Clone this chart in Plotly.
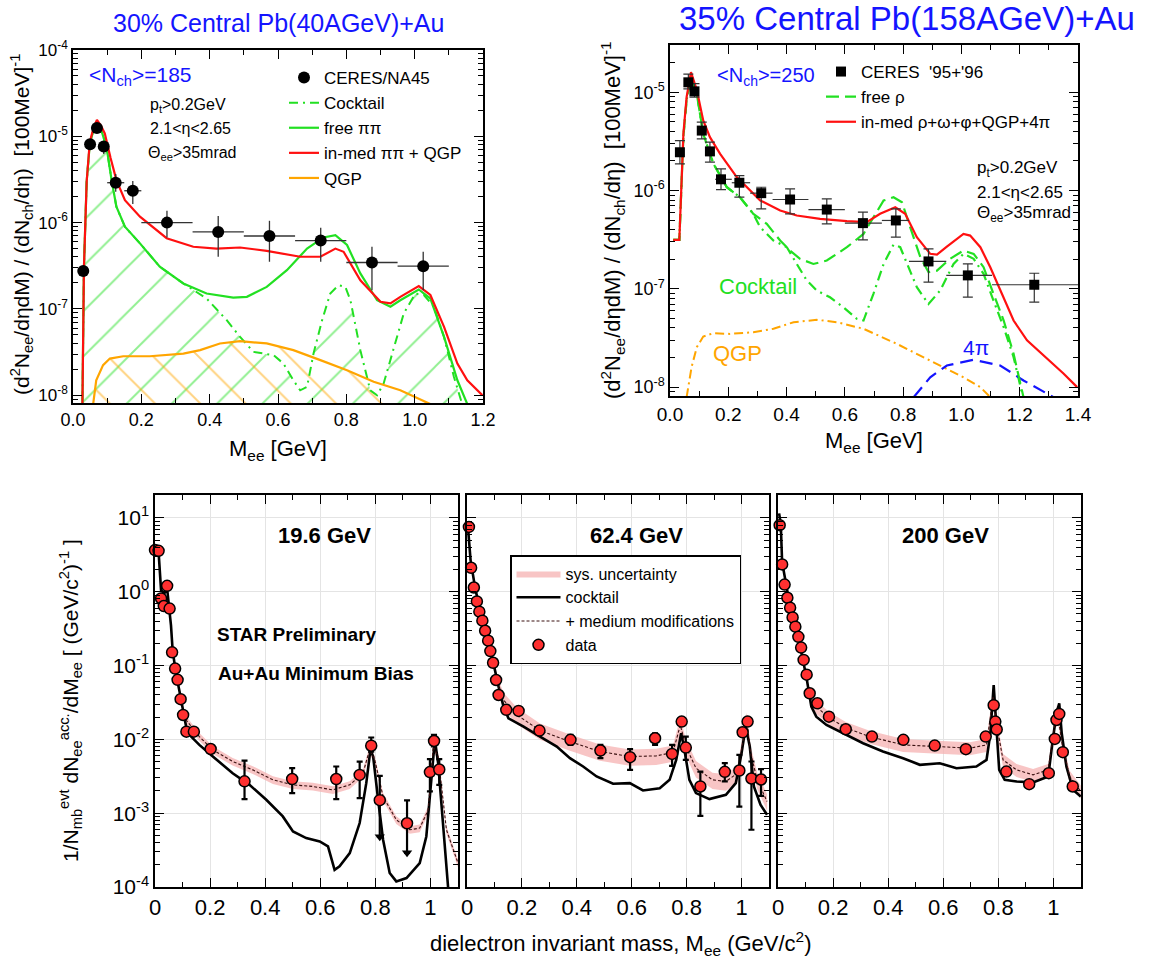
import plotly.graph_objects as go

W, H = 1159, 967
FONT = "Liberation Sans, Arial, Helvetica, sans-serif"
GREEN = "#22e022"
RED = "#ff1010"
ORANGE = "#ffa500"
BLUE = "#1414ff"
FILL_FLOOR = 1e-9

# ---------------- top-left: 30% central Pb(40AGeV)+Au ----------------
TL_DATA_X = [0.03, 0.05, 0.07, 0.09, 0.125, 0.175, 0.275, 0.425, 0.575, 0.725, 0.875, 1.025]
TL_DATA_Y = [2.75e-7, 8.1e-6, 1.25e-5, 7.6e-6, 2.9e-6, 2.34e-6, 1.0e-6, 7.8e-7, 7.0e-7, 6.2e-7, 3.45e-7, 3.13e-7]
TL_DATA_XERR = [0, 0, 0, 0, 0.025, 0.025, 0.075, 0.075, 0.075, 0.075, 0.075, 0.075]
TL_DATA_YHI = [2.75e-7, 8.1e-6, 1.25e-5, 8.65e-6, 3.65e-6, 3.03e-6, 1.37e-6, 1.19e-6, 1.05e-6, 8.7e-7, 5.25e-7, 4.59e-7]
TL_DATA_YLO = [2.75e-7, 8.1e-6, 1.25e-5, 6.22e-6, 2.28e-6, 1.64e-6, 6.73e-7, 4.02e-7, 3.52e-7, 3.52e-7, 1.65e-7, 1.65e-7]

TL_RED_X = [0.027, 0.032, 0.040, 0.049, 0.060, 0.070, 0.082, 0.093, 0.110, 0.127, 0.152, 0.196, 0.274,
            0.352, 0.42, 0.489, 0.567, 0.665, 0.724, 0.768, 0.792, 0.841, 0.90, 0.929, 0.958, 1.012,
            1.046, 1.086, 1.125, 1.154, 1.198]
TL_RED_Y = [5e-9, 3.0e-7, 3.0e-6, 8.5e-6, 1.25e-5, 1.55e-5, 1.32e-5, 1.08e-5, 5.6e-6, 3.11e-6, 1.82e-6,
            1.17e-6, 6.6e-7, 5.25e-7, 5.0e-7, 5.15e-7, 4.71e-7, 4.02e-7, 4.02e-7, 5.0e-7, 4.59e-7, 2.15e-7,
            1.21e-7, 1.16e-7, 1.38e-7, 1.84e-7, 1.45e-7, 6.2e-8, 2.33e-8, 1.49e-8, 1.0e-8]

TL_FREE_X = [0.027, 0.032, 0.040, 0.049, 0.060, 0.070, 0.082, 0.098, 0.113, 0.127, 0.152, 0.196, 0.254,
             0.323, 0.391, 0.469, 0.509, 0.567, 0.626, 0.685, 0.733, 0.768, 0.802, 0.841, 0.89, 0.929,
             0.958, 1.012, 1.046, 1.086, 1.125, 1.154]
TL_FREE_Y = [5e-9, 3.0e-7, 3.0e-6, 8.0e-6, 1.2e-5, 1.41e-5, 1.2e-5, 7.6e-6, 3.1e-6, 1.53e-6, 8.95e-7,
             5.75e-7, 3.08e-7, 1.97e-7, 1.51e-7, 1.35e-7, 1.38e-7, 1.8e-7, 2.81e-7, 5.0e-7, 6.73e-7,
             7.16e-7, 5.5e-7, 2.58e-7, 1.26e-7, 1.06e-7, 1.26e-7, 1.68e-7, 1.32e-7, 4.74e-8, 1.49e-8, 7.9e-9]

TL_COCK_X = [0.027, 0.032, 0.040, 0.049, 0.060, 0.070, 0.082, 0.098, 0.113, 0.127, 0.152, 0.196, 0.254,
             0.323, 0.391, 0.45, 0.489, 0.528, 0.587, 0.616, 0.645, 0.665, 0.685, 0.704, 0.729, 0.753,
             0.777, 0.797, 0.812, 0.841, 0.87, 0.89, 0.909, 0.939, 0.968, 1.002, 1.027, 1.056, 1.086,
             1.115, 1.139]
TL_COCK_Y = [5e-9, 3.0e-7, 3.0e-6, 8.0e-6, 1.2e-5, 1.41e-5, 1.2e-5, 7.6e-6, 3.1e-6, 1.53e-6, 8.95e-7,
             5.75e-7, 3.08e-7, 1.97e-7, 1.32e-7, 7.4e-8, 4.74e-8, 3.18e-8, 2.91e-8, 2.33e-8, 1.49e-8,
             1.14e-8, 1.25e-8, 3.04e-8, 7.4e-8, 1.51e-7, 1.88e-7, 1.8e-7, 1.26e-7, 3.33e-8, 1.14e-8,
             1.0e-8, 1.36e-8, 3.63e-8, 8.85e-8, 1.51e-7, 1.45e-7, 1.06e-7, 4.74e-8, 1.63e-8, 7.9e-9]

TL_QGP_X = [0.059, 0.068, 0.088, 0.108, 0.147, 0.225, 0.323, 0.372, 0.43, 0.489, 0.567, 0.645, 0.724,
            0.802, 0.88, 0.958, 1.046]
TL_QGP_Y = [7.9e-9, 1.49e-8, 2.23e-8, 2.66e-8, 2.83e-8, 2.83e-8, 3.04e-8, 3.33e-8, 3.98e-8, 4.23e-8,
            3.98e-8, 3.33e-8, 2.55e-8, 1.95e-8, 1.43e-8, 1.14e-8, 7.9e-9]

# ---------------- top-right: 35% central Pb(158AGeV)+Au ----------------
TR_DATA_X = [0.034, 0.063, 0.084, 0.109, 0.137, 0.175, 0.238, 0.313, 0.412, 0.538, 0.662, 0.775, 0.887, 1.022, 1.25]
TR_DATA_Y = [2.45e-6, 1.26e-5, 1.02e-5, 4.07e-6, 2.5e-6, 1.3e-6, 1.2e-6, 9.4e-7, 8.1e-7, 6.4e-7, 4.66e-7,
             4.96e-7, 1.9e-7, 1.37e-7, 1.1e-7]
TR_DATA_XLO = [0.034, 0.063, 0.084, 0.109, 0.137, 0.155, 0.212, 0.275, 0.352, 0.475, 0.60, 0.727, 0.82, 0.948, 1.105]
TR_DATA_XHI = [0.034, 0.063, 0.084, 0.109, 0.137, 0.212, 0.275, 0.352, 0.475, 0.60, 0.727, 0.82, 0.948, 1.105, 1.4]
TR_DATA_YHI = [3.22e-6, 1.53e-5, 1.22e-5, 4.95e-6, 3.1e-6, 1.66e-6, 1.42e-6, 1.08e-6, 1.04e-6, 8.22e-7,
               6.03e-7, 6.52e-7, 2.55e-7, 1.79e-7, 1.44e-7]
TR_DATA_YLO = [1.87e-6, 1.08e-5, 8.9e-6, 3.35e-6, 1.94e-6, 1.02e-6, 8.55e-7, 6.52e-7, 5.79e-7, 4.58e-7,
               3.15e-7, 3.35e-7, 1.17e-7, 8.22e-8, 7.31e-8]

TR_RED_X = [0.011, 0.032, 0.046, 0.057, 0.072, 0.092, 0.114, 0.137, 0.172, 0.229, 0.309, 0.378, 0.435,
            0.515, 0.607, 0.675, 0.721, 0.773, 0.807, 0.847, 0.893, 0.916, 0.95, 1.007, 1.03, 1.065,
            1.099, 1.139, 1.179, 1.225, 1.294, 1.351, 1.397]
TR_RED_Y = [3.15e-7, 3.15e-7, 3.8e-6, 8.9e-6, 1.6e-5, 1.05e-5, 5.15e-6, 3.49e-6, 2.36e-6, 1.37e-6, 7.94e-7,
            6.27e-7, 5.57e-7, 5.15e-7, 4.88e-7, 4.76e-7, 5.79e-7, 6.76e-7, 5.79e-7, 3.35e-7, 2.27e-7,
            2.23e-7, 2.69e-7, 3.62e-7, 3.48e-7, 2.65e-7, 1.66e-7, 8.9e-8, 4.76e-8, 2.99e-8, 1.94e-8,
            1.37e-8, 1.0e-8]

TR_FREE_X = [0.011, 0.032, 0.046, 0.057, 0.072, 0.092, 0.114, 0.149, 0.195, 0.24, 0.286, 0.332, 0.378,
             0.412, 0.446, 0.492, 0.538, 0.607, 0.664, 0.698, 0.733, 0.767, 0.796, 0.824, 0.859, 0.887,
             0.916, 0.961, 1.007, 1.042, 1.076, 1.11, 1.145, 1.179, 1.202, 1.213]
TR_FREE_Y = [3.15e-7, 3.15e-7, 3.55e-6, 8.3e-6, 1.48e-5, 9.6e-6, 3.77e-6, 1.87e-6, 1.08e-6, 8.55e-7,
             5.79e-7, 4.58e-7, 3.1e-7, 2.45e-7, 2.02e-7, 1.79e-7, 1.94e-7, 2.65e-7, 3.62e-7, 5.36e-7,
             7.91e-7, 8.55e-7, 7.6e-7, 4.24e-7, 2.1e-7, 1.48e-7, 1.53e-7, 2.02e-7, 2.45e-7, 2.27e-7,
             1.66e-7, 8.9e-8, 4.76e-8, 2.18e-8, 1.08e-8, 7.9e-9]

TR_COCK_X = [0.011, 0.032, 0.046, 0.057, 0.072, 0.092, 0.114, 0.149, 0.195, 0.24, 0.286, 0.309, 0.355,
             0.401, 0.435, 0.469, 0.504, 0.549, 0.595, 0.641, 0.664, 0.698, 0.733, 0.767, 0.79, 0.818,
             0.847, 0.887, 0.927, 0.973, 1.007, 1.042, 1.076, 1.11, 1.145, 1.179, 1.202, 1.211]
TR_COCK_Y = [3.15e-7, 3.15e-7, 3.55e-6, 8.3e-6, 1.48e-5, 9.6e-6, 3.77e-6, 1.87e-6, 1.08e-6, 8.55e-7,
             5.79e-7, 4.24e-7, 3.1e-7, 2.65e-7, 1.79e-7, 1.22e-7, 9.6e-8, 8.2e-8, 6.5e-8, 4.95e-8,
             4.76e-8, 8.9e-8, 1.79e-7, 2.82e-7, 2.65e-7, 1.66e-7, 1.04e-7, 7.0e-8, 9.6e-8, 1.79e-7,
             2.27e-7, 2.02e-7, 1.42e-7, 7.6e-8, 4.07e-8, 2.02e-8, 1.0e-8, 7.9e-9]

TR_QGP_X = [0.057, 0.074, 0.092, 0.114, 0.149, 0.206, 0.286, 0.355, 0.424, 0.504, 0.572, 0.664, 0.778,
            0.893, 1.007, 1.065, 1.099]
TR_QGP_Y = [7.9e-9, 1.6e-8, 2.55e-8, 3.27e-8, 3.54e-8, 3.48e-8, 3.62e-8, 3.92e-8, 4.58e-8, 4.84e-8,
            4.58e-8, 3.92e-8, 2.76e-8, 1.87e-8, 1.26e-8, 1.0e-8, 7.9e-9]

TR_4PI_X = [0.836, 0.893, 0.95, 1.042, 1.133, 1.213, 1.316]
TR_4PI_Y = [7.9e-9, 1.26e-8, 1.66e-8, 1.9e-8, 1.66e-8, 1.17e-8, 7.9e-9]

# ---------------- bottom: STAR Au+Au ----------------
ENERGIES = ["19.6 GeV", "62.4 GeV", "200 GeV"]
SYS_FRAC = [0.12, 0.25, 0.2]

P1_X = [0.0, 0.013, 0.022, 0.032, 0.044, 0.053, 0.062, 0.073, 0.082, 0.093, 0.102, 0.114, 0.141, 0.202,
        0.325, 0.498, 0.658, 0.743, 0.785, 0.816, 0.915, 0.998, 1.013, 1.032]
P1_Y = [3.66, 3.58, 0.81, 0.64, 1.2, 0.59, 0.151, 0.091, 0.064, 0.035, 0.0214, 0.0127, 0.0127, 0.0074,
        0.0027, 0.0029, 0.0029, 0.0033, 0.0082, 0.0015, 0.00073, 0.0036, 0.0095, 0.0039]
P1_YHI = [None] * 14 + [0.00516, 0.00407, 0.00429, 0.005, 0.0106, 0.0032, 0.00149, 0.0054, 0.0115, 0.0054]
P1_YLO = [None] * 14 + [0.00155, 0.00187, 0.00155, 0.0016, 0.0068, 0.00048, 0.00029, 0.00197, 0.008, 0.00242]
P1_LIMIT_X = [0.816, 0.915]
P1_LIMIT_Y = [0.00048, 0.00029]

P1_COCK_X = [0.0, 0.013, 0.022, 0.034, 0.044, 0.052, 0.058, 0.064, 0.076, 0.088, 0.101, 0.113, 0.131,
             0.161, 0.21, 0.282, 0.343, 0.404, 0.464, 0.501, 0.549, 0.598, 0.628, 0.652, 0.67, 0.707,
             0.743, 0.767, 0.782, 0.792, 0.81, 0.828, 0.852, 0.876, 0.913, 0.961, 0.985, 1.004, 1.016,
             1.028, 1.046, 1.064]
P1_COCK_Y = [3.85, 3.47, 1.05, 0.948, 1.1, 0.6, 0.35, 0.162, 0.0783, 0.0467, 0.0251, 0.0149, 0.0109,
             0.00841, 0.00585, 0.00348, 0.00242, 0.00152, 0.000904, 0.000566, 0.00046, 0.000415,
             0.000355, 0.000171, 0.000191, 0.000288, 0.000735, 0.00255, 0.00721, 0.00585, 0.00152,
             0.000437, 0.000155, 0.000119, 0.000132, 0.000211, 0.000484, 0.00348, 0.00984, 0.00475,
             0.000596, 0.0001]
P1_MED_X = [0.101, 0.113, 0.161, 0.21, 0.282, 0.355, 0.428, 0.501, 0.573, 0.646, 0.707, 0.755, 0.779,
            0.798, 0.828, 0.876, 0.925, 0.961, 0.992, 1.01, 1.028, 1.058, 1.1]
P1_MED_Y = [0.0251, 0.0183, 0.0109, 0.00719, 0.00501, 0.00386, 0.00283, 0.00242, 0.0023, 0.00207,
            0.00242, 0.00348, 0.00721, 0.00527, 0.00168, 0.000813, 0.000596, 0.000628, 0.00111, 0.008,
            0.00585, 0.000596, 0.000211]

P2_X = [0.007, 0.015, 0.025, 0.036, 0.045, 0.056, 0.066, 0.077, 0.085, 0.095, 0.106, 0.115, 0.143, 0.188,
        0.264, 0.377, 0.486, 0.594, 0.685, 0.747, 0.782, 0.797, 0.85, 0.939, 0.992, 1.004, 1.022, 1.036, 1.071]
P2_Y = [7.55, 2.11, 1.14, 0.738, 0.536, 0.405, 0.296, 0.217, 0.157, 0.109, 0.0637, 0.0399, 0.0251, 0.0243,
        0.01315, 0.00984, 0.00706, 0.00574, 0.01035, 0.00635, 0.0174, 0.00774, 0.0023, 0.00363, 0.00378,
        0.01247, 0.0174, 0.00295, 0.00286]
P2_YHI = [None] * 15 + [0.0115, 0.0084, 0.00736, 0.0121, 0.0084, None, 0.0109, 0.00366, 0.00475, 0.00617,
                        None, None, 0.00501, 0.00394]
P2_YLO = [None] * 15 + [0.0084, 0.00556, 0.00386, 0.0084, 0.00437, None, 0.00527, 0.00092, 0.00269, 0.00123,
                        None, None, 0.000596, 0.00172]
P2_COCK_X = [0.003, 0.013, 0.031, 0.061, 0.091, 0.115, 0.133, 0.151, 0.206, 0.266, 0.327, 0.375, 0.423,
             0.472, 0.532, 0.593, 0.641, 0.702, 0.738, 0.762, 0.78, 0.792, 0.81, 0.834, 0.883, 0.943,
             0.979, 1.0, 1.015, 1.03, 1.045, 1.069, 1.093]
P2_COCK_Y = [7.94, 2.68, 1.05, 0.372, 0.132, 0.0518, 0.0278, 0.0193, 0.0149, 0.0109, 0.008, 0.00556,
             0.00429, 0.00314, 0.0025, 0.00255, 0.00203, 0.00218, 0.00283, 0.00527, 0.0121, 0.00721,
             0.00283, 0.00187, 0.00155, 0.00177, 0.00255, 0.00649, 0.0149, 0.008, 0.0023, 0.0013, 0.00095]
P2_MED_X = [0.115, 0.133, 0.182, 0.266, 0.375, 0.484, 0.593, 0.689, 0.75, 0.777, 0.797, 0.834, 0.894,
            0.943, 0.985, 1.003, 1.019, 1.033, 1.057, 1.093]
P2_MED_Y = [0.0518, 0.0342, 0.0214, 0.01315, 0.00933, 0.00684, 0.00585, 0.00597, 0.00662, 0.01567, 0.008,
            0.00407, 0.00283, 0.00269, 0.00348, 0.008, 0.0183, 0.00649, 0.00283, 0.00144]

P3_X = [0.006, 0.015, 0.024, 0.034, 0.044, 0.053, 0.063, 0.074, 0.084, 0.093, 0.104, 0.115, 0.143, 0.185,
        0.246, 0.341, 0.455, 0.569, 0.682, 0.754, 0.783, 0.789, 0.794, 0.829, 0.912, 0.983, 1.005, 1.011,
        1.021, 1.034, 1.07]
P3_Y = [7.96, 2.34, 1.25, 0.828, 0.607, 0.449, 0.336, 0.245, 0.175, 0.119, 0.0752, 0.0421, 0.0308, 0.0203,
        0.0137, 0.0109, 0.00984, 0.00824, 0.00736, 0.0109, 0.029, 0.0174, 0.0136, 0.00366, 0.00247,
        0.00348, 0.01014, 0.0183, 0.0221, 0.0067, 0.0023]
P3_YHI = [None] * 31
P3_YLO = [None] * 31
P3_COCK_X = [0.004, 0.01, 0.015, 0.042, 0.073, 0.103, 0.121, 0.139, 0.176, 0.236, 0.309, 0.381, 0.454,
             0.515, 0.587, 0.648, 0.72, 0.757, 0.771, 0.783, 0.79, 0.803, 0.823, 0.866, 0.926, 0.981,
             0.996, 1.011, 1.021, 1.03, 1.047, 1.071, 1.099]
P3_COCK_Y = [11.5, 8.3, 2.51, 0.693, 0.245, 0.0706, 0.0277, 0.0203, 0.0157, 0.0121, 0.00887, 0.00684,
             0.00556, 0.00452, 0.00475, 0.00406, 0.00429, 0.00527, 0.0121, 0.0545, 0.0225, 0.00386,
             0.00283, 0.00269, 0.00261, 0.00314, 0.00887, 0.0225, 0.0308, 0.0121, 0.00429, 0.00207, 0.00168]
P3_MED_X = [0.121, 0.139, 0.188, 0.248, 0.333, 0.454, 0.575, 0.696, 0.757, 0.781, 0.793, 0.817, 0.866,
            0.926, 0.981, 0.999, 1.013, 1.033, 1.059, 1.099]
P3_MED_Y = [0.0355, 0.0277, 0.0193, 0.0142, 0.0109, 0.00841, 0.008, 0.00759, 0.00841, 0.0379, 0.0165,
            0.00527, 0.00386, 0.00331, 0.00386, 0.0109, 0.025, 0.008, 0.00314, 0.00197]

PANELS = [
    (P1_X, P1_Y, P1_YHI, P1_YLO, P1_COCK_X, P1_COCK_Y, P1_MED_X, P1_MED_Y),
    (P2_X, P2_Y, P2_YHI, P2_YLO, P2_COCK_X, P2_COCK_Y, P2_MED_X, P2_MED_Y),
    (P3_X, P3_Y, P3_YHI, P3_YLO, P3_COCK_X, P3_COCK_Y, P3_MED_X, P3_MED_Y),
]

# ---------------- helpers ----------------
def px(x):
    return x / W


def py(y):
    return 1 - y / H


def sup(n):
    return "10<sup>%s</sup>" % (str(n) if n >= 0 else "-" + str(-n))


fig = go.Figure()

# ---- top-left traces ----
fig.add_trace(go.Scatter(
    x=TL_COCK_X + TL_COCK_X[::-1], y=TL_COCK_Y + [FILL_FLOOR] * len(TL_COCK_X),
    fill="toself", fillcolor="rgba(0,0,0,0)", mode="lines", line=dict(width=0),
    fillpattern=dict(shape="/", fgcolor=GREEN, bgcolor="rgba(0,0,0,0)", size=32, solidity=0.06),
    showlegend=False, hoverinfo="skip", xaxis="x", yaxis="y"))
fig.add_trace(go.Scatter(
    x=TL_QGP_X + TL_QGP_X[::-1], y=TL_QGP_Y + [FILL_FLOOR] * len(TL_QGP_X),
    fill="toself", fillcolor="rgba(0,0,0,0)", mode="lines", line=dict(width=0),
    fillpattern=dict(shape="\\", fgcolor=ORANGE, bgcolor="rgba(0,0,0,0)", size=32, solidity=0.06),
    showlegend=False, hoverinfo="skip", xaxis="x", yaxis="y"))
fig.add_trace(go.Scatter(x=TL_COCK_X, y=TL_COCK_Y, mode="lines", name="Cocktail", legendrank=2,
                         line=dict(color=GREEN, width=2, dash="9px,5px,2px,5px"),
                         xaxis="x", yaxis="y", legend="legend"))
fig.add_trace(go.Scatter(x=TL_FREE_X, y=TL_FREE_Y, mode="lines", name="free ππ", legendrank=3,
                         line=dict(color=GREEN, width=2.2), xaxis="x", yaxis="y", legend="legend"))
fig.add_trace(go.Scatter(x=TL_RED_X, y=TL_RED_Y, mode="lines", name="in-med ππ + QGP", legendrank=4,
                         line=dict(color=RED, width=2.2), xaxis="x", yaxis="y", legend="legend"))
fig.add_trace(go.Scatter(x=TL_QGP_X, y=TL_QGP_Y, mode="lines", name="QGP", legendrank=5,
                         line=dict(color=ORANGE, width=2.2), xaxis="x", yaxis="y", legend="legend"))
fig.add_trace(go.Scatter(
    x=TL_DATA_X, y=TL_DATA_Y, mode="markers", name="CERES/NA45", legendrank=1,
    marker=dict(color="black", size=12, symbol="circle"),
    error_x=dict(type="data", array=TL_DATA_XERR, color="#333333", thickness=1.3, width=0),
    error_y=dict(type="data", symmetric=False,
                 array=[h - v for h, v in zip(TL_DATA_YHI, TL_DATA_Y)],
                 arrayminus=[v - l for l, v in zip(TL_DATA_YLO, TL_DATA_Y)],
                 color="#333333", thickness=1.3, width=0),
    cliponaxis=False, xaxis="x", yaxis="y", legend="legend"))

# ---- top-right traces ----
fig.add_trace(go.Scatter(x=TR_COCK_X, y=TR_COCK_Y, mode="lines", showlegend=False,
                         line=dict(color=GREEN, width=2.2, dash="10px,5px,2px,5px"), xaxis="x2", yaxis="y2"))
fig.add_trace(go.Scatter(x=TR_QGP_X, y=TR_QGP_Y, mode="lines", showlegend=False,
                         line=dict(color=ORANGE, width=2, dash="9px,4px,2px,4px"), xaxis="x2", yaxis="y2"))
fig.add_trace(go.Scatter(x=TR_4PI_X, y=TR_4PI_Y, mode="lines", showlegend=False,
                         line=dict(color=BLUE, width=2.2, dash="13px,7px"), xaxis="x2", yaxis="y2"))
fig.add_trace(go.Scatter(x=TR_FREE_X, y=TR_FREE_Y, mode="lines", name="free ρ", legendrank=2,
                         legendgroup="b", line=dict(color=GREEN, width=2.2, dash="13px,6px"),
                         xaxis="x2", yaxis="y2", legend="legend2"))
fig.add_trace(go.Scatter(x=TR_RED_X, y=TR_RED_Y, mode="lines", name="in-med ρ+ω+φ+QGP+4π", legendrank=3,
                         legendgroup="c", line=dict(color=RED, width=2.2), xaxis="x2", yaxis="y2",
                         legend="legend2"))
fig.add_trace(go.Scatter(
    x=TR_DATA_X, y=TR_DATA_Y, mode="markers", name="CERES  '95+'96", legendrank=1, legendgroup="a",
    marker=dict(color="black", size=10, symbol="square"),
    error_x=dict(type="data", symmetric=False,
                 array=[h - v for h, v in zip(TR_DATA_XHI, TR_DATA_X)],
                 arrayminus=[v - l for l, v in zip(TR_DATA_XLO, TR_DATA_X)],
                 color="#333333", thickness=1.2, width=0),
    error_y=dict(type="data", symmetric=False,
                 array=[h - v for h, v in zip(TR_DATA_YHI, TR_DATA_Y)],
                 arrayminus=[v - l for l, v in zip(TR_DATA_YLO, TR_DATA_Y)],
                 color="#333333", thickness=1.2, width=5),
    cliponaxis=False, xaxis="x2", yaxis="y2", legend="legend2"))

# ---- bottom panels ----
for i, (dx, dy, dhi, dlo, cx, cy, mx, my) in enumerate(PANELS):
    xa = "x%d" % (i + 3)
    ya = "y%d" % (i + 3)
    leg = (i == 1)
    f = SYS_FRAC[i]
    fig.add_trace(go.Scatter(
        x=mx + mx[::-1], y=[v * (1 + f) for v in my] + [v * (1 - f) for v in my[::-1]],
        fill="toself", fillcolor="rgba(246,178,178,0.75)", mode="lines", line=dict(width=0),
        name="sys. uncertainty", showlegend=leg, legendrank=1, hoverinfo="skip",
        xaxis=xa, yaxis=ya, legend="legend3"))
    fig.add_trace(go.Scatter(x=cx, y=cy, mode="lines", name="cocktail", showlegend=leg, legendrank=2,
                             line=dict(color="black", width=2.6), xaxis=xa, yaxis=ya, legend="legend3"))
    fig.add_trace(go.Scatter(x=mx, y=my, mode="lines", name="+ medium modifications", showlegend=leg,
                             legendrank=3, line=dict(color="#3a1010", width=1.1, dash="3px,2px"),
                             xaxis=xa, yaxis=ya, legend="legend3"))
    plus = [(h - v) if h is not None else 0 for h, v in zip(dhi, dy)]
    minus = [(v - l) if l is not None else 0 for l, v in zip(dlo, dy)]
    fig.add_trace(go.Scatter(
        x=dx, y=dy, mode="markers", name="data", showlegend=leg, legendrank=4,
        marker=dict(color="#ff3030", size=11, line=dict(color="black", width=1.5)),
        error_y=dict(type="data", symmetric=False, array=plus, arrayminus=minus,
                     color="black", thickness=2.2, width=3),
        cliponaxis=False, xaxis=xa, yaxis=ya, legend="legend3"))

fig.add_trace(go.Scatter(x=P1_LIMIT_X, y=P1_LIMIT_Y, mode="markers", showlegend=False,
                         marker=dict(symbol="triangle-down", color="black", size=9),
                         xaxis="x3", yaxis="y3"))

# ---------------- axes ----------------
def lin_axis(domain, rng, anchor, dtick, fmt, size, minor_dtick, labels=True, grid=False, tickvals=None,
             ticktext=None):
    d = dict(domain=domain, range=rng, anchor=anchor, showline=True, linecolor="black", linewidth=1.5,
             mirror="allticks", ticks="inside", ticklen=9, tickwidth=1, tickcolor="black",
             showgrid=grid, gridcolor="#e4e4e4", zeroline=False, automargin=False,
             tickfont=dict(family=FONT, size=size, color="black"),
             minor=dict(ticks="inside", ticklen=5, tickcolor="black", dtick=minor_dtick, showgrid=False),
             showticklabels=labels)
    if tickvals is not None:
        d.update(tickmode="array", tickvals=tickvals, ticktext=ticktext)
    else:
        d.update(dtick=dtick, tick0=0, tickformat=fmt)
    return d


def log_axis(domain, rng, anchor, e_lo, e_hi, size, labels=True, grid=False, matches=None):
    vals = [10.0 ** e for e in range(e_lo, e_hi + 1)]
    minors = [m * 10.0 ** e for e in range(e_lo - 1, e_hi + 1) for m in range(2, 10)]
    d = dict(type="log", domain=domain, range=rng, anchor=anchor, showline=True, linecolor="black",
             linewidth=1.5, mirror="allticks", ticks="inside", ticklen=9, tickwidth=1, tickcolor="black",
             showgrid=grid, gridcolor="#e4e4e4", zeroline=False, automargin=False,
             tickmode="array", tickvals=vals, ticktext=[sup(e) for e in range(e_lo, e_hi + 1)],
             tickfont=dict(family=FONT, size=size, color="black"),
             minor=dict(ticks="inside", ticklen=5, tickcolor="black", tickmode="array", tickvals=minors,
                        showgrid=False),
             showticklabels=labels)
    if matches:
        d["matches"] = matches
    return d


xt_bottom = [0, 0.2, 0.4, 0.6, 0.8, 1.0]
xt_bottom_txt = ["0", "0.2", "0.4", "0.6", "0.8", "1"]
BOT_Y = [py(887), py(495)]
BOT_R = [-4, 1.31]

layout_axes = dict(
    xaxis=lin_axis([px(73), px(483)], [0, 1.2], "y", 0.2, ".1f", 18, 0.1),
    yaxis=log_axis([py(403), py(50)], [-8.09, -4], "x", -8, -4, 17),
    xaxis2=lin_axis([px(670), px(1078)], [0, 1.4], "y2", 0.2, ".1f", 19, 0.1),
    yaxis2=log_axis([py(396), py(45)], [-8.09, -4.52], "x2", -8, -5, 18),
    xaxis3=lin_axis([px(155), px(458)], [0, 1.1], "y3", None, None, 22, 0.1, grid=True,
                    tickvals=xt_bottom, ticktext=xt_bottom_txt),
    xaxis4=lin_axis([px(467), px(769)], [0, 1.1], "y4", None, None, 22, 0.1, grid=True,
                    tickvals=xt_bottom, ticktext=xt_bottom_txt),
    xaxis5=lin_axis([px(778), px(1081)], [0, 1.1], "y5", None, None, 22, 0.1, grid=True,
                    tickvals=xt_bottom, ticktext=xt_bottom_txt),
    yaxis3=log_axis(BOT_Y, BOT_R, "x3", -4, 1, 21, grid=True),
    yaxis4=log_axis(BOT_Y, BOT_R, "x4", -4, 1, 21, labels=False, grid=True, matches="y3"),
    yaxis5=log_axis(BOT_Y, BOT_R, "x5", -4, 1, 21, labels=False, grid=True, matches="y3"),
)


def ann(x, y, text, size, color="black", bold=False, xanchor="center", angle=0):
    t = "<b>%s</b>" % text if bold else text
    return dict(x=px(x), y=py(y), xref="paper", yref="paper", text=t, showarrow=False,
                xanchor=xanchor, yanchor="middle", textangle=angle,
                font=dict(family=FONT, size=size, color=color))


annotations = [
    ann(278, 23, "30% Central Pb(40AGeV)+Au", 25, BLUE),
    ann(907, 18, "35% Central Pb(158AGeV)+Au", 33, BLUE),
    ann(140, 76, "<N<sub>ch</sub>>=185", 21, BLUE),
    ann(148, 105, "p<sub>t</sub>>0.2GeV", 16, xanchor="left"),
    ann(148, 129, "2.1<η<2.65", 16, xanchor="left"),
    ann(146, 153, "Θ<sub>ee</sub>>35mrad", 16, xanchor="left"),
    ann(766, 76, "<N<sub>ch</sub>>=250", 20, BLUE),
    ann(975, 169, "p<sub>t</sub>>0.2GeV", 17, xanchor="left"),
    ann(975, 192, "2.1<η<2.65", 17, xanchor="left"),
    ann(975, 214, "Θ<sub>ee</sub>>35mrad", 17, xanchor="left"),
    ann(758, 287, "Cocktail", 22, GREEN),
    ann(737, 353, "QGP", 22, ORANGE),
    ann(976, 347, "4π", 21, BLUE),
    ann(22, 225, "(d<sup>2</sup>N<sub>ee</sub>/dηdM) / (dN<sub>ch</sub>/dη)  [100MeV]<sup>-1</sup>", 21,
        angle=-90),
    ann(613, 220, "(d<sup>2</sup>N<sub>ee</sub>/dηdM) / (dN<sub>ch</sub>/dη)  [100MeV]<sup>-1</sup>", 22,
        angle=-90),
    ann(278, 450, "M<sub>ee</sub> [GeV]", 22),
    ann(874, 442, "M<sub>ee</sub> [GeV]", 22),
    ann(325, 535, ENERGIES[0], 22, bold=True),
    ann(636, 535, ENERGIES[1], 22, bold=True),
    ann(945, 535, ENERGIES[2], 22, bold=True),
    ann(215, 634, "STAR Preliminary", 19, bold=True, xanchor="left"),
    ann(216, 673, "Au+Au Minimum Bias", 19, bold=True, xanchor="left"),
    ann(620, 943, "dielectron invariant mass, M<sub>ee</sub> (GeV/c<sup>2</sup>)", 22),
    ann(70, 701, "1/N<sub>mb</sub><sup>evt</sup> dN<sub>ee</sub><sup>acc.</sup>/dM<sub>ee</sub>"
                 " [ (GeV/c<sup>2</sup>)<sup>-1</sup> ]", 21, angle=-90),
]

fig.update_layout(
    width=W, height=H, margin=dict(l=0, r=0, t=0, b=0, autoexpand=False),
    paper_bgcolor="white", plot_bgcolor="white",
    font=dict(family=FONT, color="black"),
    annotations=annotations,
    legend=dict(x=px(284), y=py(60), xanchor="left", yanchor="top", bgcolor="rgba(0,0,0,0)",
                font=dict(family=FONT, size=17, color="black"), traceorder="normal"),
    legend2=dict(x=px(821), y=py(54), xanchor="left", yanchor="top", bgcolor="rgba(0,0,0,0)",
                 font=dict(family=FONT, size=17, color="black"), traceorder="normal", tracegroupgap=5),
    legend3=dict(x=px(510), y=py(555), xanchor="left", yanchor="top", bgcolor="white",
                 bordercolor="black", borderwidth=1.5, itemwidth=44,
                 font=dict(family=FONT, size=16, color="black"), traceorder="normal"),
    **layout_axes,
)

fig.write_html("out.html", config={"displayModeBar": False},
               post_script="document.body.style.margin='0';document.body.style.overflow='hidden';")
